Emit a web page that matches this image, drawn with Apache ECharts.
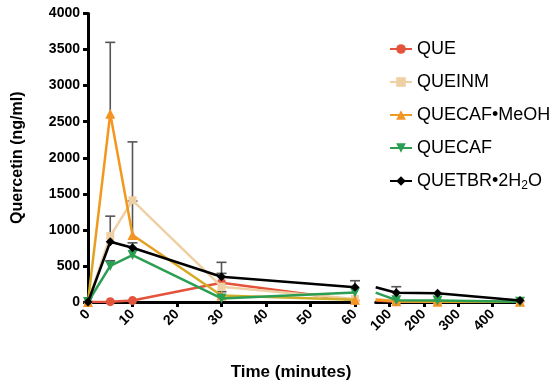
<!DOCTYPE html>
<html>
<head>
<meta charset="utf-8">
<script src="https://cdn.jsdelivr.net/npm/echarts@6/dist/echarts.min.js"></script>
<style>html,body{margin:0;padding:0;background:#fff}#c{width:550px;height:388px}</style>
</head>
<body>
<div id="c"></div>
<script>
// ---- data ----
var seriesNames = ['QUE', 'QUEINM', 'QUECAF•MeOH', 'QUECAF', 'QUETBR•2H2O'];
var times1 = [0, 5, 10, 30, 60];
var times2 = [60, 120, 240, 480];
var que1 = [0, 5, 20, 268, 20];
var que2 = [20, 5, 5, 5];
var queinm1 = [0, 914, 1410, 212, 40];
var queinm2 = [40, 15, 10, 10];
var meoh1 = [0, 2610, 928, 90, 30];
var meoh2 = [30, 10, 5, 5];
var quecaf1 = [0, 500, 650, 50, 130];
var quecaf2 = [130, 25, 20, 5];
var tbr1 = [0, 835, 752, 350, 204];
var tbr2 = [204, 129, 120, 20];
// upper error bar ends
var queErr1 = [null, null, null, 397, null];
var queinmErr1 = [null, null, 2220, null, null];
var meohErr1 = [null, 3600, 1400, 143, null];
var quecafErr1 = [null, 572, null, null, null];
var tbrErr1 = [null, 1190, 820, 550, 295];
var tbrErr2 = [null, 212, null, null];
var yTicks = [0, 500, 1000, 1500, 2000, 2500, 3000, 3500, 4000];
var xTicks2 = [100, 200, 300, 400];

var FONT = 'Liberation Sans';
var colors = ['#e4533c', '#efcfa4', '#f39424', '#2a9e52', '#000000'];
var symbols = ['circle', 'rect', 'triangle', 'path://M0,0 L10,0 L5,9 Z', 'diamond'];
var sizes = [9, 8, 10, 10, 9];
var meohColor = {type: 'linear', x: 0, y: 0, x2: 0, y2: 1, colorStops: [
  {offset: 0, color: '#f7941d'}, {offset: 0.6, color: '#f09a1e'}, {offset: 1, color: '#c9b128'}]};

var seg1 = [que1, queinm1, meoh1, quecaf1, tbr1];
var seg2 = [que2, queinm2, meoh2, quecaf2, tbr2];
var errs1 = [queErr1, queinmErr1, meohErr1, quecafErr1, tbrErr1];
var errs2 = [null, null, null, null, tbrErr2];

function zip(ts, vs, skipFirstSymbol) {
  return ts.map(function (t, i) {
    if (skipFirstSymbol && i === 0) return {value: [t, vs[i]], symbol: 'none'};
    return [t, vs[i]];
  });
}

var series = [];
seriesNames.forEach(function (n, k) {
  var lc = k === 2 ? meohColor : colors[k];
  var common = {
    name: n, type: 'line', symbol: symbols[k], symbolSize: sizes[k],
    itemStyle: {color: colors[k]}, lineStyle: {width: 2.5, color: lc},
    z: 3 + k, animation: false
  };
  series.push(Object.assign({}, common, {xAxisIndex: 0, yAxisIndex: 0, data: zip(times1, seg1[k], false)}));
  series.push(Object.assign({}, common, {xAxisIndex: 1, yAxisIndex: 1, data: zip(times2, seg2[k], true)}));
});

function errData(ts, vals, ups) {
  var out = [];
  if (!ups) return out;
  ts.forEach(function (t, i) { if (ups[i] != null) out.push([t, vals[i], ups[i]]); });
  return out;
}
var err1 = [], err2 = [];
for (var k = 0; k < 5; k++) {
  err1 = err1.concat(errData(times1, seg1[k], errs1[k]));
  err2 = err2.concat(errData(times2, seg2[k], errs2[k]));
}
function renderErr(params, api) {
  var x = api.value(0), v = api.value(1), u = api.value(2);
  var p1 = api.coord([x, v]), p2 = api.coord([x, u]);
  var st = {stroke: '#555', lineWidth: 1.6};
  return {type: 'group', children: [
    {type: 'line', shape: {x1: p1[0], y1: p1[1], x2: p2[0], y2: p2[1]}, style: st},
    {type: 'line', shape: {x1: p2[0] - 5, y1: p2[1], x2: p2[0] + 5, y2: p2[1]}, style: st}
  ]};
}
series.push({type: 'custom', xAxisIndex: 0, yAxisIndex: 0, data: err1, renderItem: renderErr, z: 2, animation: false, silent: true});
series.push({type: 'custom', xAxisIndex: 1, yAxisIndex: 1, data: err2, renderItem: renderErr, z: 2, animation: false, silent: true});

var axisLine = {show: true, onZero: false, lineStyle: {color: '#000', width: 3}};
var axisTick = {show: true, inside: false, length: 5, lineStyle: {color: '#000', width: 3}};
var lab = {fontFamily: FONT, fontWeight: 'bold', fontSize: 14, color: '#000'};
function plain(v) { return String(v); }

var option = {
  animation: false,
  backgroundColor: '#fff',
  grid: [
    {left: 88, top: 13.5, width: 267, height: 288.5},
    {left: 375.7, top: 13.5, width: 144.3, height: 288.5}
  ],
  xAxis: [
    {type: 'value', gridIndex: 0, min: 0, max: 60, interval: 10,
     axisLine: axisLine, axisTick: axisTick, splitLine: {show: false},
     axisLabel: Object.assign({rotate: 45, margin: 10, formatter: plain}, lab)},
    {type: 'value', gridIndex: 1, min: 60, max: 480,
     axisLine: axisLine, splitLine: {show: false},
     axisTick: Object.assign({customValues: xTicks2}, axisTick),
     axisLabel: Object.assign({rotate: 45, margin: 10, customValues: xTicks2, formatter: plain}, lab)}
  ],
  yAxis: [
    {type: 'value', gridIndex: 0, min: yTicks[0], max: yTicks[yTicks.length - 1], interval: 500,
     axisLine: axisLine, axisTick: axisTick, splitLine: {show: false},
     axisLabel: Object.assign({margin: 8, formatter: plain}, lab),
     name: 'Quercetin (ng/ml)', nameLocation: 'middle', nameGap: 62,
     nameTextStyle: {fontFamily: FONT, fontWeight: 'bold', fontSize: 16, color: '#000'}},
    {type: 'value', gridIndex: 1, min: 0, max: 4000, show: false, splitLine: {show: false}}
  ],
  legend: {
    orient: 'vertical', left: 384, top: 35, itemWidth: 22, itemHeight: 12, itemGap: 15,
    data: seriesNames,
    formatter: function (n) { return n === 'QUETBR•2H2O' ? 'QUETBR•2H{sub|2}O' : n; },
    textStyle: {fontFamily: FONT, fontSize: 18, color: '#000',
      rich: {sub: {fontFamily: FONT, fontSize: 12, color: '#000', padding: [9, 0, 0, 0]}}}
  },
  graphic: [{
    type: 'text', x: 291, y: 372,
    style: {text: 'Time (minutes)', font: 'bold 17px "Liberation Sans"', fill: '#000',
      textAlign: 'center', textVerticalAlign: 'middle'}
  }],
  series: series
};
var chart = echarts.init(document.getElementById('c'), null, {renderer: 'canvas'});
chart.setOption(option);
</script>
</body>
</html>
